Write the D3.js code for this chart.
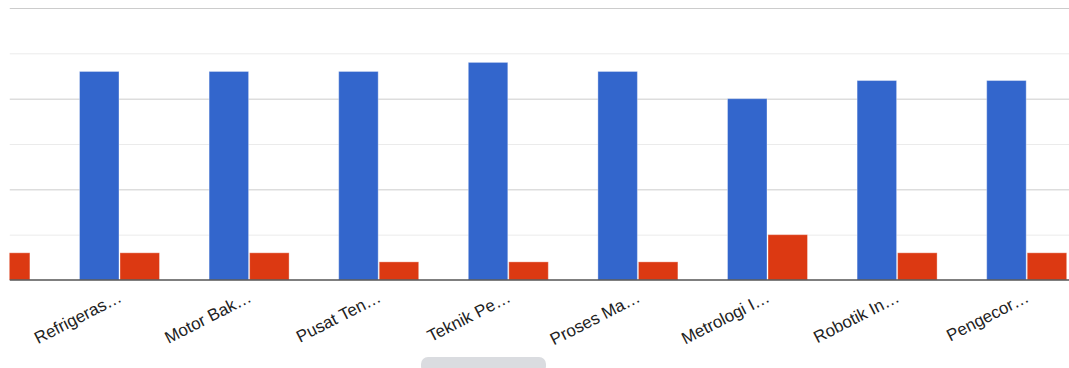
<!DOCTYPE html>
<html>
<head>
<meta charset="utf-8">
<script src="https://cdn.jsdelivr.net/npm/d3@7"></script>
<style>
  html, body { margin: 0; padding: 0; background: #fff; }
  svg { display: block; }
</style>
</head>
<body>
<svg id="chart" width="1069" height="368"></svg>
<script>
// Category labels (the first group is scrolled partly out of view on the left)
const categories = ["", "Refrigeras…", "Motor Bak…", "Pusat Ten…", "Teknik Pe…", "Proses Ma…", "Metrologi I…", "Robotik In…", "Pengecor…"];
const seriesNames = ["Series A", "Series B"];
const seriesA = [23, 23, 23, 23, 24, 23, 20, 22, 22];
const seriesB = [3, 3, 3, 2, 2, 2, 5, 3, 3];
const yTicks = [0, 5, 10, 15, 20, 25, 30];
const colors = ["#3366cc", "#dc3912"];

const svg = d3.select("#chart");
const W = 1069;
const plotLeft = 9.5, plotTop = 8, plotBottom = 280;

// Horizontally scrolled band layout
const step = 129.6;
const firstCenter = -10.1;
const x0 = d3.scaleBand()
  .domain(categories.map((c, i) => i))
  .range([firstCenter - step / 2, firstCenter - step / 2 + step * categories.length])
  .paddingInner(0).paddingOuter(0);
const groupWidth = 80;
const x1 = d3.scaleBand().domain(seriesNames).range([0, groupWidth]).paddingInner(0.025);

const y = d3.scaleLinear().domain([0, 30]).range([plotBottom, plotTop]);

svg.append("defs").append("clipPath").attr("id", "plotClip")
  .append("rect").attr("x", plotLeft).attr("y", 0).attr("width", W - plotLeft).attr("height", 368);

const plot = svg.append("g").attr("clip-path", "url(#plotClip)");

// Gridlines: darker at multiples of 10, lighter in between
const grid = d3.axisLeft(y).tickValues(yTicks.filter(v => v > 0)).tickSize(-(W - plotLeft)).tickFormat("");
const gridG = plot.append("g").attr("transform", `translate(${plotLeft},0)`).call(grid);
gridG.select(".domain").remove();
gridG.selectAll(".tick line")
  .attr("stroke", d => d % 10 === 0 ? "#cccccc" : "#ebebeb")
  .attr("stroke-width", 1);

// Bars
const rows = categories.map((c, i) => ({ i, values: [seriesA[i], seriesB[i]] }));
const groups = plot.selectAll("g.grp").data(rows).join("g")
  .attr("class", "grp")
  .attr("transform", d => `translate(${x0(d.i) + x0.bandwidth() / 2 - groupWidth / 2},0)`);
groups.selectAll("rect").data(d => d.values.map((v, k) => ({ v, k }))).join("rect")
  .attr("x", d => x1(seriesNames[d.k]))
  .attr("width", x1.bandwidth())
  .attr("y", d => y(d.v))
  .attr("height", d => y(0) - y(d.v))
  .attr("fill", d => colors[d.k])
  .attr("stroke", "#ffffff")
  .attr("stroke-opacity", 0.35)
  .attr("stroke-width", 1);

// Baseline
plot.append("line")
  .attr("x1", plotLeft).attr("x2", W)
  .attr("y1", y(0)).attr("y2", y(0))
  .attr("stroke", "#555").attr("stroke-width", 1.5);

// Slanted category labels
const xAxis = d3.axisBottom(x0).tickSize(0).tickFormat(i => categories[i]);
const axG = svg.append("g").attr("transform", `translate(0,${plotBottom})`).call(xAxis);
axG.select(".domain").remove();
axG.attr("font-size", null).attr("font-family", null);
axG.selectAll(".tick text")
  .style("font-family", "'Liberation Sans', Arial, sans-serif")
  .style("font-size", "17px")
  .attr("fill", "#222")
  .attr("text-anchor", "end")
  .attr("x", 0).attr("y", 0).attr("dy", null)
  .attr("transform", "translate(3.5,21) rotate(-27)");

// Horizontal scroll handle
svg.append("rect")
  .attr("x", 421).attr("y", 357).attr("width", 125).attr("height", 16)
  .attr("rx", 7).attr("fill", "#dadce0");
</script>
</body>
</html>
